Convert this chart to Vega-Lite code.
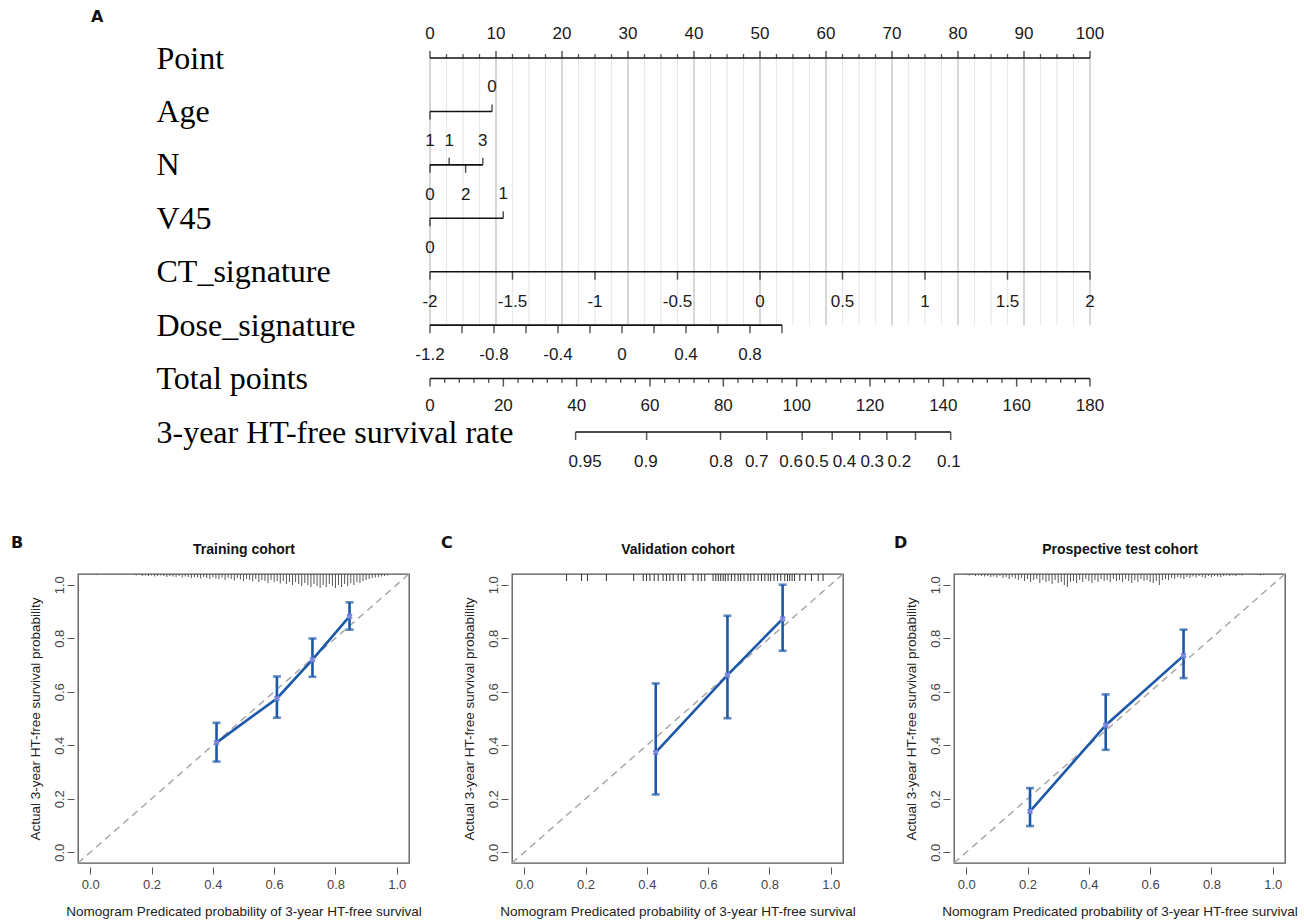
{
"$schema": "https://vega.github.io/schema/vega-lite/v6.json",
"padding": {"left": 10, "top": 9, "right": 0, "bottom": 0},
"background": "white",
"bounds": "flush",
"spacing": 142,
"config": {
  "view": {"stroke": "#555555", "strokeWidth": 1.3},
  "font": "Liberation Sans",
  "axis": {"labelFont": "Liberation Sans", "titleFont": "Liberation Sans", "grid": false},
  "title": {"font": "DejaVu Sans"}
},
"datasets": {
  "nomoLines": [
    {"r":"Point","x1":0,"x2":100},{"r":"Age","x1":0,"x2":9.4},{"r":"N","x1":0,"x2":8.0},{"r":"V45","x1":0,"x2":11.1},
    {"r":"CT_signature","x1":0,"x2":100},{"r":"Dose_signature","x1":0,"x2":53.333},{"r":"Total points","x1":0,"x2":100},
    {"r":"3-year HT-free survival rate","x1":22.06,"x2":78.89}
  ],
  "nomoGrid": [
    {"x":0,"w":"major"},{"x":2.5,"w":"minor"},{"x":5,"w":"minor"},{"x":7.5,"w":"minor"},{"x":10,"w":"major"},{"x":12.5,"w":"minor"},{"x":15,"w":"minor"},{"x":17.5,"w":"minor"},
    {"x":20,"w":"major"},{"x":22.5,"w":"minor"},{"x":25,"w":"minor"},{"x":27.5,"w":"minor"},{"x":30,"w":"major"},{"x":32.5,"w":"minor"},{"x":35,"w":"minor"},{"x":37.5,"w":"minor"},
    {"x":40,"w":"major"},{"x":42.5,"w":"minor"},{"x":45,"w":"minor"},{"x":47.5,"w":"minor"},{"x":50,"w":"major"},{"x":52.5,"w":"minor"},{"x":55,"w":"minor"},{"x":57.5,"w":"minor"},
    {"x":60,"w":"major"},{"x":62.5,"w":"minor"},{"x":65,"w":"minor"},{"x":67.5,"w":"minor"},{"x":70,"w":"major"},{"x":72.5,"w":"minor"},{"x":75,"w":"minor"},{"x":77.5,"w":"minor"},
    {"x":80,"w":"major"},{"x":82.5,"w":"minor"},{"x":85,"w":"minor"},{"x":87.5,"w":"minor"},{"x":90,"w":"major"},{"x":92.5,"w":"minor"},{"x":95,"w":"minor"},{"x":97.5,"w":"minor"},
    {"x":100,"w":"major"}
  ],
  "nomoTicks": [
    {"r":"Point","x":0,"d":"up","l":"major"},{"r":"Point","x":10,"d":"up","l":"major"},{"r":"Point","x":20,"d":"up","l":"major"},{"r":"Point","x":30,"d":"up","l":"major"},
    {"r":"Point","x":40,"d":"up","l":"major"},{"r":"Point","x":50,"d":"up","l":"major"},{"r":"Point","x":60,"d":"up","l":"major"},{"r":"Point","x":70,"d":"up","l":"major"},
    {"r":"Point","x":80,"d":"up","l":"major"},{"r":"Point","x":90,"d":"up","l":"major"},{"r":"Point","x":100,"d":"up","l":"major"},
    {"r":"Point","x":2.5,"d":"up","l":"minor"},{"r":"Point","x":5,"d":"up","l":"minor"},{"r":"Point","x":7.5,"d":"up","l":"minor"},
    {"r":"Point","x":12.5,"d":"up","l":"minor"},{"r":"Point","x":15,"d":"up","l":"minor"},{"r":"Point","x":17.5,"d":"up","l":"minor"},
    {"r":"Point","x":22.5,"d":"up","l":"minor"},{"r":"Point","x":25,"d":"up","l":"minor"},{"r":"Point","x":27.5,"d":"up","l":"minor"},
    {"r":"Point","x":32.5,"d":"up","l":"minor"},{"r":"Point","x":35,"d":"up","l":"minor"},{"r":"Point","x":37.5,"d":"up","l":"minor"},
    {"r":"Point","x":42.5,"d":"up","l":"minor"},{"r":"Point","x":45,"d":"up","l":"minor"},{"r":"Point","x":47.5,"d":"up","l":"minor"},
    {"r":"Point","x":52.5,"d":"up","l":"minor"},{"r":"Point","x":55,"d":"up","l":"minor"},{"r":"Point","x":57.5,"d":"up","l":"minor"},
    {"r":"Point","x":62.5,"d":"up","l":"minor"},{"r":"Point","x":65,"d":"up","l":"minor"},{"r":"Point","x":67.5,"d":"up","l":"minor"},
    {"r":"Point","x":72.5,"d":"up","l":"minor"},{"r":"Point","x":75,"d":"up","l":"minor"},{"r":"Point","x":77.5,"d":"up","l":"minor"},
    {"r":"Point","x":82.5,"d":"up","l":"minor"},{"r":"Point","x":85,"d":"up","l":"minor"},{"r":"Point","x":87.5,"d":"up","l":"minor"},
    {"r":"Point","x":92.5,"d":"up","l":"minor"},{"r":"Point","x":95,"d":"up","l":"minor"},{"r":"Point","x":97.5,"d":"up","l":"minor"},
    {"r":"Age","x":0,"d":"down","l":"major"},{"r":"Age","x":9.4,"d":"up","l":"major"},
    {"r":"N","x":0,"d":"down","l":"major"},{"r":"N","x":2.9,"d":"up","l":"major"},{"r":"N","x":5.4,"d":"down","l":"major"},{"r":"N","x":8.0,"d":"up","l":"major"},
    {"r":"V45","x":0,"d":"down","l":"major"},{"r":"V45","x":11.1,"d":"up","l":"major"},
    {"r":"CT_signature","x":0,"d":"down","l":"major"},{"r":"CT_signature","x":12.5,"d":"down","l":"major"},{"r":"CT_signature","x":25,"d":"down","l":"major"},
    {"r":"CT_signature","x":37.5,"d":"down","l":"major"},{"r":"CT_signature","x":50,"d":"down","l":"major"},{"r":"CT_signature","x":62.5,"d":"down","l":"major"},
    {"r":"CT_signature","x":75,"d":"down","l":"major"},{"r":"CT_signature","x":87.5,"d":"down","l":"major"},{"r":"CT_signature","x":100,"d":"down","l":"major"},
    {"r":"Dose_signature","x":0,"d":"down","l":"major"},{"r":"Dose_signature","x":4.848,"d":"down","l":"major"},{"r":"Dose_signature","x":9.697,"d":"down","l":"major"},
    {"r":"Dose_signature","x":14.545,"d":"down","l":"major"},{"r":"Dose_signature","x":19.394,"d":"down","l":"major"},{"r":"Dose_signature","x":24.242,"d":"down","l":"major"},
    {"r":"Dose_signature","x":29.091,"d":"down","l":"major"},{"r":"Dose_signature","x":33.939,"d":"down","l":"major"},{"r":"Dose_signature","x":38.788,"d":"down","l":"major"},
    {"r":"Dose_signature","x":43.636,"d":"down","l":"major"},{"r":"Dose_signature","x":48.485,"d":"down","l":"major"},{"r":"Dose_signature","x":53.333,"d":"down","l":"major"},
    {"r":"Total points","x":0,"d":"down","l":"major"},{"r":"Total points","x":11.111,"d":"down","l":"major"},{"r":"Total points","x":22.222,"d":"down","l":"major"},
    {"r":"Total points","x":33.333,"d":"down","l":"major"},{"r":"Total points","x":44.444,"d":"down","l":"major"},{"r":"Total points","x":55.556,"d":"down","l":"major"},
    {"r":"Total points","x":66.667,"d":"down","l":"major"},{"r":"Total points","x":77.778,"d":"down","l":"major"},{"r":"Total points","x":88.889,"d":"down","l":"major"},
    {"r":"Total points","x":100,"d":"down","l":"major"},
    {"r":"Total points","x":2.222,"d":"down","l":"minor"},{"r":"Total points","x":4.444,"d":"down","l":"minor"},{"r":"Total points","x":6.667,"d":"down","l":"minor"},{"r":"Total points","x":8.889,"d":"down","l":"minor"},
    {"r":"Total points","x":13.333,"d":"down","l":"minor"},{"r":"Total points","x":15.556,"d":"down","l":"minor"},{"r":"Total points","x":17.778,"d":"down","l":"minor"},{"r":"Total points","x":20,"d":"down","l":"minor"},
    {"r":"Total points","x":24.444,"d":"down","l":"minor"},{"r":"Total points","x":26.667,"d":"down","l":"minor"},{"r":"Total points","x":28.889,"d":"down","l":"minor"},{"r":"Total points","x":31.111,"d":"down","l":"minor"},
    {"r":"Total points","x":35.556,"d":"down","l":"minor"},{"r":"Total points","x":37.778,"d":"down","l":"minor"},{"r":"Total points","x":40,"d":"down","l":"minor"},{"r":"Total points","x":42.222,"d":"down","l":"minor"},
    {"r":"Total points","x":46.667,"d":"down","l":"minor"},{"r":"Total points","x":48.889,"d":"down","l":"minor"},{"r":"Total points","x":51.111,"d":"down","l":"minor"},{"r":"Total points","x":53.333,"d":"down","l":"minor"},
    {"r":"Total points","x":57.778,"d":"down","l":"minor"},{"r":"Total points","x":60,"d":"down","l":"minor"},{"r":"Total points","x":62.222,"d":"down","l":"minor"},{"r":"Total points","x":64.444,"d":"down","l":"minor"},
    {"r":"Total points","x":68.889,"d":"down","l":"minor"},{"r":"Total points","x":71.111,"d":"down","l":"minor"},{"r":"Total points","x":73.333,"d":"down","l":"minor"},{"r":"Total points","x":75.556,"d":"down","l":"minor"},
    {"r":"Total points","x":80,"d":"down","l":"minor"},{"r":"Total points","x":82.222,"d":"down","l":"minor"},{"r":"Total points","x":84.444,"d":"down","l":"minor"},{"r":"Total points","x":86.667,"d":"down","l":"minor"},
    {"r":"Total points","x":91.111,"d":"down","l":"minor"},{"r":"Total points","x":93.333,"d":"down","l":"minor"},{"r":"Total points","x":95.556,"d":"down","l":"minor"},{"r":"Total points","x":97.778,"d":"down","l":"minor"},
    {"r":"3-year HT-free survival rate","x":22.06,"d":"down","l":"major"},{"r":"3-year HT-free survival rate","x":32.82,"d":"down","l":"major"},
    {"r":"3-year HT-free survival rate","x":44.02,"d":"down","l":"major"},{"r":"3-year HT-free survival rate","x":51.02,"d":"down","l":"major"},
    {"r":"3-year HT-free survival rate","x":56.39,"d":"down","l":"major"},{"r":"3-year HT-free survival rate","x":60.94,"d":"down","l":"major"},
    {"r":"3-year HT-free survival rate","x":65.11,"d":"down","l":"major"},{"r":"3-year HT-free survival rate","x":69.22,"d":"down","l":"major"},
    {"r":"3-year HT-free survival rate","x":73.56,"d":"down","l":"major"},{"r":"3-year HT-free survival rate","x":78.89,"d":"down","l":"major"}
  ],
  "nomoLabels": [
    {"r":"Point","x":0,"t":"0","p":"above"},{"r":"Point","x":10,"t":"10","p":"above"},{"r":"Point","x":20,"t":"20","p":"above"},{"r":"Point","x":30,"t":"30","p":"above"},
    {"r":"Point","x":40,"t":"40","p":"above"},{"r":"Point","x":50,"t":"50","p":"above"},{"r":"Point","x":60,"t":"60","p":"above"},{"r":"Point","x":70,"t":"70","p":"above"},
    {"r":"Point","x":80,"t":"80","p":"above"},{"r":"Point","x":90,"t":"90","p":"above"},{"r":"Point","x":100,"t":"100","p":"above"},
    {"r":"Age","x":0,"t":"1","p":"below"},{"r":"Age","x":9.4,"t":"0","p":"above"},
    {"r":"N","x":0,"t":"0","p":"below"},{"r":"N","x":2.9,"t":"1","p":"above"},{"r":"N","x":5.4,"t":"2","p":"below"},{"r":"N","x":8.0,"t":"3","p":"above"},
    {"r":"V45","x":0,"t":"0","p":"below"},{"r":"V45","x":11.1,"t":"1","p":"above"},
    {"r":"CT_signature","x":0,"t":"-2","p":"below"},{"r":"CT_signature","x":12.5,"t":"-1.5","p":"below"},{"r":"CT_signature","x":25,"t":"-1","p":"below"},
    {"r":"CT_signature","x":37.5,"t":"-0.5","p":"below"},{"r":"CT_signature","x":50,"t":"0","p":"below"},{"r":"CT_signature","x":62.5,"t":"0.5","p":"below"},
    {"r":"CT_signature","x":75,"t":"1","p":"below"},{"r":"CT_signature","x":87.5,"t":"1.5","p":"below"},{"r":"CT_signature","x":100,"t":"2","p":"below"},
    {"r":"Dose_signature","x":0,"t":"-1.2","p":"below"},{"r":"Dose_signature","x":9.697,"t":"-0.8","p":"below"},{"r":"Dose_signature","x":19.394,"t":"-0.4","p":"below"},
    {"r":"Dose_signature","x":29.091,"t":"0","p":"below"},{"r":"Dose_signature","x":38.788,"t":"0.4","p":"below"},{"r":"Dose_signature","x":48.485,"t":"0.8","p":"below"},
    {"r":"Total points","x":0,"t":"0","p":"belowT"},{"r":"Total points","x":11.111,"t":"20","p":"belowT"},{"r":"Total points","x":22.222,"t":"40","p":"belowT"},
    {"r":"Total points","x":33.333,"t":"60","p":"belowT"},{"r":"Total points","x":44.444,"t":"80","p":"belowT"},{"r":"Total points","x":55.556,"t":"100","p":"belowT"},
    {"r":"Total points","x":66.667,"t":"120","p":"belowT"},{"r":"Total points","x":77.778,"t":"140","p":"belowT"},{"r":"Total points","x":88.889,"t":"160","p":"belowT"},
    {"r":"Total points","x":100,"t":"180","p":"belowT"},
    {"r":"3-year HT-free survival rate","x":23.5,"t":"0.95","p":"below"},{"r":"3-year HT-free survival rate","x":32.7,"t":"0.9","p":"below"},
    {"r":"3-year HT-free survival rate","x":44.1,"t":"0.8","p":"below"},{"r":"3-year HT-free survival rate","x":49.5,"t":"0.7","p":"below"},
    {"r":"3-year HT-free survival rate","x":54.7,"t":"0.6","p":"below"},{"r":"3-year HT-free survival rate","x":58.6,"t":"0.5","p":"below"},
    {"r":"3-year HT-free survival rate","x":62.8,"t":"0.4","p":"below"},{"r":"3-year HT-free survival rate","x":67.0,"t":"0.3","p":"below"},
    {"r":"3-year HT-free survival rate","x":71.1,"t":"0.2","p":"below"},{"r":"3-year HT-free survival rate","x":78.6,"t":"0.1","p":"below"}
  ],
  "diag": [{"v":-0.04},{"v":1.04}],
  "calB": [{"pred":0.412,"obs":0.41,"lo":0.339,"hi":0.484},{"pred":0.609,"obs":0.575,"lo":0.503,"hi":0.657},{"pred":0.725,"obs":0.72,"lo":0.656,"hi":0.799},{"pred":0.846,"obs":0.882,"lo":0.832,"hi":0.934}],
  "calC": [{"pred":0.429,"obs":0.373,"lo":0.216,"hi":0.631},{"pred":0.663,"obs":0.662,"lo":0.501,"hi":0.884},{"pred":0.843,"obs":0.872,"lo":0.753,"hi":1.0}],
  "calD": [{"pred":0.208,"obs":0.153,"lo":0.098,"hi":0.24},{"pred":0.455,"obs":0.475,"lo":0.383,"hi":0.59},{"pred":0.709,"obs":0.735,"lo":0.651,"hi":0.832}],
  "rugB": [{"v":0.02,"n":1},{"v":0.15,"n":1.5},{"v":0.16,"n":1},{"v":0.17,"n":2},{"v":0.18,"n":1.5},{"v":0.19,"n":2},{"v":0.2,"n":1.5},{"v":0.21,"n":2.5},{"v":0.22,"n":2},{"v":0.23,"n":1.5},{"v":0.24,"n":2},{"v":0.25,"n":3},{"v":0.26,"n":2},{"v":0.27,"n":2.5},{"v":0.28,"n":3},{"v":0.29,"n":2},{"v":0.3,"n":3.5},{"v":0.31,"n":2.5},{"v":0.32,"n":3},{"v":0.33,"n":4},{"v":0.34,"n":3},{"v":0.35,"n":3.5},{"v":0.36,"n":4.5},{"v":0.37,"n":3},{"v":0.38,"n":4},{"v":0.39,"n":5},{"v":0.4,"n":3.5},{"v":0.41,"n":4.5},{"v":0.42,"n":5},{"v":0.43,"n":3.5},{"v":0.44,"n":6},{"v":0.45,"n":4},{"v":0.46,"n":5},{"v":0.47,"n":6.5},{"v":0.48,"n":4},{"v":0.49,"n":5.5},{"v":0.5,"n":7},{"v":0.51,"n":5},{"v":0.52,"n":6},{"v":0.53,"n":7.5},{"v":0.54,"n":5},{"v":0.55,"n":8},{"v":0.56,"n":6},{"v":0.57,"n":7},{"v":0.58,"n":9},{"v":0.59,"n":6},{"v":0.6,"n":8},{"v":0.61,"n":7},{"v":0.62,"n":9.5},{"v":0.63,"n":7},{"v":0.64,"n":10},{"v":0.65,"n":8},{"v":0.66,"n":11},{"v":0.67,"n":8},{"v":0.68,"n":10},{"v":0.69,"n":12},{"v":0.7,"n":9},{"v":0.71,"n":11},{"v":0.72,"n":13},{"v":0.73,"n":10},{"v":0.74,"n":12},{"v":0.75,"n":14},{"v":0.76,"n":11},{"v":0.77,"n":13},{"v":0.78,"n":10},{"v":0.79,"n":12},{"v":0.8,"n":14},{"v":0.81,"n":11},{"v":0.82,"n":13},{"v":0.83,"n":10},{"v":0.84,"n":12},{"v":0.85,"n":9},{"v":0.86,"n":11},{"v":0.87,"n":8},{"v":0.88,"n":9},{"v":0.89,"n":7},{"v":0.9,"n":6},{"v":0.91,"n":5},{"v":0.92,"n":4},{"v":0.93,"n":3.5},{"v":0.94,"n":3},{"v":0.95,"n":2.5},{"v":0.96,"n":2},{"v":0.97,"n":1.5}],
  "rugC": [{"v":0.138,"n":7},{"v":0.187,"n":7},{"v":0.206,"n":7},{"v":0.268,"n":7},{"v":0.357,"n":7},{"v":0.388,"n":7},{"v":0.399,"n":7},{"v":0.41,"n":7},{"v":0.424,"n":7},{"v":0.437,"n":7},{"v":0.453,"n":7},{"v":0.464,"n":7},{"v":0.475,"n":7},{"v":0.486,"n":7},{"v":0.502,"n":7},{"v":0.513,"n":7},{"v":0.524,"n":7},{"v":0.551,"n":7},{"v":0.567,"n":7},{"v":0.578,"n":7},{"v":0.589,"n":7},{"v":0.616,"n":7},{"v":0.625,"n":7},{"v":0.633,"n":7},{"v":0.641,"n":7},{"v":0.649,"n":7},{"v":0.656,"n":7},{"v":0.665,"n":7},{"v":0.676,"n":7},{"v":0.687,"n":7},{"v":0.698,"n":7},{"v":0.706,"n":7},{"v":0.717,"n":7},{"v":0.73,"n":7},{"v":0.739,"n":7},{"v":0.75,"n":7},{"v":0.763,"n":7},{"v":0.774,"n":7},{"v":0.785,"n":7},{"v":0.796,"n":7},{"v":0.804,"n":7},{"v":0.815,"n":7},{"v":0.826,"n":7},{"v":0.837,"n":7},{"v":0.85,"n":7},{"v":0.859,"n":7},{"v":0.866,"n":7},{"v":0.874,"n":7},{"v":0.882,"n":7},{"v":0.899,"n":7},{"v":0.917,"n":7},{"v":0.937,"n":7},{"v":0.959,"n":7},{"v":0.975,"n":7}],
  "rugD": [{"v":0.0,"n":1},{"v":0.01,"n":1.5},{"v":0.02,"n":1},{"v":0.03,"n":2},{"v":0.04,"n":1.5},{"v":0.05,"n":2},{"v":0.06,"n":2.5},{"v":0.07,"n":2},{"v":0.08,"n":3},{"v":0.09,"n":2.5},{"v":0.1,"n":3.5},{"v":0.11,"n":2},{"v":0.12,"n":4},{"v":0.13,"n":3},{"v":0.14,"n":5},{"v":0.15,"n":3},{"v":0.16,"n":4.5},{"v":0.17,"n":6},{"v":0.18,"n":4},{"v":0.19,"n":7},{"v":0.2,"n":5},{"v":0.21,"n":8},{"v":0.22,"n":6},{"v":0.23,"n":5},{"v":0.24,"n":9},{"v":0.25,"n":6},{"v":0.26,"n":8},{"v":0.27,"n":7},{"v":0.28,"n":10},{"v":0.29,"n":6},{"v":0.3,"n":9},{"v":0.31,"n":8},{"v":0.32,"n":11},{"v":0.33,"n":13},{"v":0.34,"n":8},{"v":0.35,"n":7},{"v":0.36,"n":9},{"v":0.37,"n":6},{"v":0.38,"n":8},{"v":0.39,"n":5},{"v":0.4,"n":7},{"v":0.41,"n":9},{"v":0.42,"n":6},{"v":0.43,"n":8},{"v":0.44,"n":5},{"v":0.45,"n":7},{"v":0.46,"n":6},{"v":0.47,"n":8},{"v":0.48,"n":5},{"v":0.49,"n":7},{"v":0.5,"n":6},{"v":0.51,"n":8},{"v":0.52,"n":5},{"v":0.53,"n":7},{"v":0.54,"n":9},{"v":0.55,"n":6},{"v":0.56,"n":8},{"v":0.57,"n":5},{"v":0.58,"n":7},{"v":0.59,"n":6},{"v":0.6,"n":8},{"v":0.61,"n":9},{"v":0.62,"n":7},{"v":0.63,"n":11},{"v":0.64,"n":6},{"v":0.65,"n":5},{"v":0.66,"n":6},{"v":0.67,"n":4},{"v":0.68,"n":5},{"v":0.69,"n":3},{"v":0.7,"n":4},{"v":0.71,"n":5},{"v":0.72,"n":3},{"v":0.73,"n":4},{"v":0.74,"n":2.5},{"v":0.75,"n":3.5},{"v":0.76,"n":2},{"v":0.77,"n":3},{"v":0.78,"n":4},{"v":0.79,"n":2},{"v":0.8,"n":3},{"v":0.81,"n":2},{"v":0.82,"n":2.5},{"v":0.83,"n":3},{"v":0.84,"n":2},{"v":0.85,"n":1.5},{"v":0.86,"n":2},{"v":0.87,"n":1.5},{"v":0.88,"n":2},{"v":0.89,"n":1},{"v":0.9,"n":1.5},{"v":0.95,"n":1},{"v":0.96,"n":1.5},{"v":0.97,"n":1}]
},
"vconcat": [
  {
    "width": 1207, "height": 374,
    "view": {"stroke": null},
    "title": {"text": "A", "anchor": "start", "frame": "group", "dx": 13, "offset": 0, "fontSize": 16, "fontWeight": "bold", "color": "#111111"},
    "encoding": {
      "y": {"field": "r", "type": "nominal", "title": null,
        "scale": {"type": "point", "padding": 0, "domain": ["Point","Age","N","V45","CT_signature","Dose_signature","Total points","3-year HT-free survival rate"]},
        "axis": {"orient": "left", "ticks": false, "tickSize": 0, "domain": false, "grid": false, "labelAlign": "left", "labelBaseline": "middle", "labelPadding": -78, "labelFont": "Liberation Serif", "labelFontSize": 32, "labelColor": "#000000", "labelLimit": 700, "labelOverlap": false, "title": null}}
    },
    "layer": [
      {"data": {"name": "nomoGrid"}, "transform": [{"filter": "datum.w === 'minor'"}],
       "mark": {"type": "rule", "color": "#e8e8e8", "strokeWidth": 1.2},
       "encoding": {"x": {"field": "x", "type": "quantitative", "scale": {"domain": [-53.333, 129.545], "nice": false, "zero": false}, "axis": null},
         "y": {"datum": "Point", "type": "nominal", "title": null}, "y2": {"datum": "Dose_signature"}}},
      {"data": {"name": "nomoGrid"}, "transform": [{"filter": "datum.w === 'major'"}],
       "mark": {"type": "rule", "color": "#cdcdcd", "strokeWidth": 1.6},
       "encoding": {"x": {"field": "x", "type": "quantitative", "axis": null},
         "y": {"datum": "Point", "type": "nominal", "title": null}, "y2": {"datum": "Dose_signature"}}},
      {"data": {"name": "nomoLines"},
       "mark": {"type": "rule", "color": "#111111", "strokeWidth": 1.6},
       "encoding": {"x": {"field": "x1", "type": "quantitative", "axis": null}, "x2": {"field": "x2"}}},
      {"data": {"name": "nomoTicks"}, "transform": [{"filter": "datum.d === 'up' && datum.l === 'major'"}],
       "mark": {"type": "tick", "orient": "vertical", "size": 7, "thickness": 1.5, "yOffset": -3.5, "color": "#111111"},
       "encoding": {"x": {"field": "x", "type": "quantitative", "axis": null}}},
      {"data": {"name": "nomoTicks"}, "transform": [{"filter": "datum.d === 'up' && datum.l === 'minor'"}],
       "mark": {"type": "tick", "orient": "vertical", "size": 4, "thickness": 1.3, "yOffset": -2, "color": "#111111"},
       "encoding": {"x": {"field": "x", "type": "quantitative", "axis": null}}},
      {"data": {"name": "nomoTicks"}, "transform": [{"filter": "datum.d === 'down' && datum.l === 'major'"}],
       "mark": {"type": "tick", "orient": "vertical", "size": 8, "thickness": 1.5, "yOffset": 4, "color": "#111111"},
       "encoding": {"x": {"field": "x", "type": "quantitative", "axis": null}}},
      {"data": {"name": "nomoTicks"}, "transform": [{"filter": "datum.d === 'down' && datum.l === 'minor'"}],
       "mark": {"type": "tick", "orient": "vertical", "size": 4.5, "thickness": 1.3, "yOffset": 2.25, "color": "#111111"},
       "encoding": {"x": {"field": "x", "type": "quantitative", "axis": null}}},
      {"data": {"name": "nomoLabels"}, "transform": [{"filter": "datum.p === 'above'"}],
       "mark": {"type": "text", "dy": -24, "fontSize": 17, "font": "Liberation Sans", "color": "#1a1a1a", "baseline": "middle", "align": "center"},
       "encoding": {"x": {"field": "x", "type": "quantitative", "axis": null}, "text": {"field": "t"}}},
      {"data": {"name": "nomoLabels"}, "transform": [{"filter": "datum.p === 'below'"}],
       "mark": {"type": "text", "dy": 30, "fontSize": 17, "font": "Liberation Sans", "color": "#1a1a1a", "baseline": "middle", "align": "center"},
       "encoding": {"x": {"field": "x", "type": "quantitative", "axis": null}, "text": {"field": "t"}}},
      {"data": {"name": "nomoLabels"}, "transform": [{"filter": "datum.p === 'belowT'"}],
       "mark": {"type": "text", "dy": 27, "fontSize": 17, "font": "Liberation Sans", "color": "#1a1a1a", "baseline": "middle", "align": "center"},
       "encoding": {"x": {"field": "x", "type": "quantitative", "axis": null}, "text": {"field": "t"}}}
    ]
  },
  {
    "hconcat": [
      {
        "width": 331, "height": 289,
        "title": {"text": "B", "anchor": "start", "frame": "group", "dx": -67, "dy": 13, "fontSize": 16, "fontWeight": "bold", "color": "#111111"},
        "layer": [
          {"layer": [
            {"data": {"name": "diag"}, "mark": {"type": "line", "color": "#a8a8a8", "strokeWidth": 1.5, "strokeDash": [7, 5]},
             "encoding": {
               "x": {"field": "v", "type": "quantitative", "title": "Nomogram Predicated probability of 3-year HT-free survival", "scale": {"domain": [-0.04, 1.04], "nice": false, "zero": false},
                 "axis": {"offset": 4, "domain": false, "tickSize": 7, "tickColor": "#555555", "values": [0, 0.2, 0.4, 0.6, 0.8, 1], "format": ".1f", "labelFontSize": 13, "labelColor": "#444444", "labelPadding": 4, "titleFontSize": 13.5, "titleFontWeight": "normal", "titleColor": "#222222", "titlePadding": 13}},
               "y": {"field": "v", "type": "quantitative", "title": "Actual 3-year HT-free survival probability", "scale": {"domain": [-0.04, 1.04], "nice": false, "zero": false},
                 "axis": {"offset": 4, "domain": false, "tickSize": 7, "tickColor": "#555555", "values": [0, 0.2, 0.4, 0.6, 0.8, 1], "format": ".1f", "labelAngle": -90, "labelAlign": "center", "labelBaseline": "bottom", "labelFontSize": 13, "labelColor": "#444444", "labelPadding": 1, "titleFontSize": 13.5, "titleFontWeight": "normal", "titleColor": "#222222", "titlePadding": 11}}}},
            {"data": {"name": "calB"}, "mark": {"type": "errorbar", "color": "#1c58a8", "thickness": 2.6, "ticks": {"size": 8, "thickness": 2.6, "color": "#1c58a8"}},
             "encoding": {"x": {"field": "pred", "type": "quantitative", "title": "Nomogram Predicated probability of 3-year HT-free survival"}, "y": {"field": "lo", "type": "quantitative", "title": "Actual 3-year HT-free survival probability"}, "y2": {"field": "hi"}}},
            {"data": {"name": "calB"}, "mark": {"type": "line", "color": "#1c58a8", "strokeWidth": 2.6},
             "encoding": {"x": {"field": "pred", "type": "quantitative", "title": "Nomogram Predicated probability of 3-year HT-free survival"}, "y": {"field": "obs", "type": "quantitative", "title": "Actual 3-year HT-free survival probability"}}},
            {"data": {"name": "calB"}, "mark": {"type": "point", "shape": "cross", "angle": 45, "filled": true, "size": 40, "color": "#7a86e0", "opacity": 1},
             "encoding": {"x": {"field": "pred", "type": "quantitative", "title": "Nomogram Predicated probability of 3-year HT-free survival"}, "y": {"field": "obs", "type": "quantitative", "title": "Actual 3-year HT-free survival probability"}}}
          ]},
          {"data": {"name": "rugB"}, "mark": {"type": "rule", "color": "#555555", "strokeWidth": 1},
           "encoding": {
             "x": {"field": "v", "type": "quantitative", "scale": {"domain": [-0.04, 1.04], "nice": false, "zero": false},
               "axis": {"orient": "top", "labels": false, "ticks": false, "domain": false, "grid": false, "title": "Training cohort", "titleFont": "Liberation Sans", "titleFontSize": 14, "titleFontWeight": "bold", "titleColor": "#111111", "titlePadding": 18}},
             "y": {"field": "n", "type": "quantitative", "scale": {"domain": [0, 289], "reverse": true, "nice": false}, "axis": null},
             "y2": {"datum": 0}}}
        ],
        "resolve": {"scale": {"y": "independent"}, "axis": {"x": "independent", "y": "independent"}}
      },
      {
        "hconcat": [
          {
            "width": 331, "height": 289,
            "title": {"text": "C", "anchor": "start", "frame": "group", "dx": -71, "dy": 13, "fontSize": 16, "fontWeight": "bold", "color": "#111111"},
            "layer": [
              {"layer": [
                {"data": {"name": "diag"}, "mark": {"type": "line", "color": "#a8a8a8", "strokeWidth": 1.5, "strokeDash": [7, 5]},
                 "encoding": {
                   "x": {"field": "v", "type": "quantitative", "title": "Nomogram Predicated probability of 3-year HT-free survival", "scale": {"domain": [-0.04, 1.04], "nice": false, "zero": false},
                     "axis": {"offset": 4, "domain": false, "tickSize": 7, "tickColor": "#555555", "values": [0, 0.2, 0.4, 0.6, 0.8, 1], "format": ".1f", "labelFontSize": 13, "labelColor": "#444444", "labelPadding": 4, "titleFontSize": 13.5, "titleFontWeight": "normal", "titleColor": "#222222", "titlePadding": 13}},
                   "y": {"field": "v", "type": "quantitative", "title": "Actual 3-year HT-free survival probability", "scale": {"domain": [-0.04, 1.04], "nice": false, "zero": false},
                     "axis": {"offset": 4, "domain": false, "tickSize": 7, "tickColor": "#555555", "values": [0, 0.2, 0.4, 0.6, 0.8, 1], "format": ".1f", "labelAngle": -90, "labelAlign": "center", "labelBaseline": "bottom", "labelFontSize": 13, "labelColor": "#444444", "labelPadding": 1, "titleFontSize": 13.5, "titleFontWeight": "normal", "titleColor": "#222222", "titlePadding": 11}}}},
                {"data": {"name": "calC"}, "mark": {"type": "errorbar", "color": "#1c58a8", "thickness": 2.6, "ticks": {"size": 8, "thickness": 2.6, "color": "#1c58a8"}},
                 "encoding": {"x": {"field": "pred", "type": "quantitative", "title": "Nomogram Predicated probability of 3-year HT-free survival"}, "y": {"field": "lo", "type": "quantitative", "title": "Actual 3-year HT-free survival probability"}, "y2": {"field": "hi"}}},
                {"data": {"name": "calC"}, "mark": {"type": "line", "color": "#1c58a8", "strokeWidth": 2.6},
                 "encoding": {"x": {"field": "pred", "type": "quantitative", "title": "Nomogram Predicated probability of 3-year HT-free survival"}, "y": {"field": "obs", "type": "quantitative", "title": "Actual 3-year HT-free survival probability"}}},
                {"data": {"name": "calC"}, "mark": {"type": "point", "shape": "cross", "angle": 45, "filled": true, "size": 40, "color": "#7a86e0", "opacity": 1},
                 "encoding": {"x": {"field": "pred", "type": "quantitative", "title": "Nomogram Predicated probability of 3-year HT-free survival"}, "y": {"field": "obs", "type": "quantitative", "title": "Actual 3-year HT-free survival probability"}}}
              ]},
              {"data": {"name": "rugC"}, "mark": {"type": "rule", "color": "#333333", "strokeWidth": 1},
               "encoding": {
                 "x": {"field": "v", "type": "quantitative", "scale": {"domain": [-0.04, 1.04], "nice": false, "zero": false},
                   "axis": {"orient": "top", "labels": false, "ticks": false, "domain": false, "grid": false, "title": "Validation cohort", "titleFont": "Liberation Sans", "titleFontSize": 14, "titleFontWeight": "bold", "titleColor": "#111111", "titlePadding": 18}},
                 "y": {"field": "n", "type": "quantitative", "scale": {"domain": [0, 289], "reverse": true, "nice": false}, "axis": null},
                 "y2": {"datum": 0}}}
            ],
            "resolve": {"scale": {"y": "independent"}, "axis": {"x": "independent", "y": "independent"}}
          },
          {
            "width": 331, "height": 289,
            "title": {"text": "D", "anchor": "start", "frame": "group", "dx": -60, "dy": 13, "fontSize": 16, "fontWeight": "bold", "color": "#111111"},
            "layer": [
              {"layer": [
                {"data": {"name": "diag"}, "mark": {"type": "line", "color": "#a8a8a8", "strokeWidth": 1.5, "strokeDash": [7, 5]},
                 "encoding": {
                   "x": {"field": "v", "type": "quantitative", "title": "Nomogram Predicated probability of 3-year HT-free survival", "scale": {"domain": [-0.04, 1.04], "nice": false, "zero": false},
                     "axis": {"offset": 4, "domain": false, "tickSize": 7, "tickColor": "#555555", "values": [0, 0.2, 0.4, 0.6, 0.8, 1], "format": ".1f", "labelFontSize": 13, "labelColor": "#444444", "labelPadding": 4, "titleFontSize": 13.5, "titleFontWeight": "normal", "titleColor": "#222222", "titlePadding": 13}},
                   "y": {"field": "v", "type": "quantitative", "title": "Actual 3-year HT-free survival probability", "scale": {"domain": [-0.04, 1.04], "nice": false, "zero": false},
                     "axis": {"offset": 4, "domain": false, "tickSize": 7, "tickColor": "#555555", "values": [0, 0.2, 0.4, 0.6, 0.8, 1], "format": ".1f", "labelAngle": -90, "labelAlign": "center", "labelBaseline": "bottom", "labelFontSize": 13, "labelColor": "#444444", "labelPadding": 1, "titleFontSize": 13.5, "titleFontWeight": "normal", "titleColor": "#222222", "titlePadding": 11}}}},
                {"data": {"name": "calD"}, "mark": {"type": "errorbar", "color": "#1c58a8", "thickness": 2.6, "ticks": {"size": 8, "thickness": 2.6, "color": "#1c58a8"}},
                 "encoding": {"x": {"field": "pred", "type": "quantitative", "title": "Nomogram Predicated probability of 3-year HT-free survival"}, "y": {"field": "lo", "type": "quantitative", "title": "Actual 3-year HT-free survival probability"}, "y2": {"field": "hi"}}},
                {"data": {"name": "calD"}, "mark": {"type": "line", "color": "#1c58a8", "strokeWidth": 2.6},
                 "encoding": {"x": {"field": "pred", "type": "quantitative", "title": "Nomogram Predicated probability of 3-year HT-free survival"}, "y": {"field": "obs", "type": "quantitative", "title": "Actual 3-year HT-free survival probability"}}},
                {"data": {"name": "calD"}, "mark": {"type": "point", "shape": "cross", "angle": 45, "filled": true, "size": 40, "color": "#7a86e0", "opacity": 1},
                 "encoding": {"x": {"field": "pred", "type": "quantitative", "title": "Nomogram Predicated probability of 3-year HT-free survival"}, "y": {"field": "obs", "type": "quantitative", "title": "Actual 3-year HT-free survival probability"}}}
              ]},
              {"data": {"name": "rugD"}, "mark": {"type": "rule", "color": "#555555", "strokeWidth": 1},
               "encoding": {
                 "x": {"field": "v", "type": "quantitative", "scale": {"domain": [-0.04, 1.04], "nice": false, "zero": false},
                   "axis": {"orient": "top", "labels": false, "ticks": false, "domain": false, "grid": false, "title": "Prospective test cohort", "titleFont": "Liberation Sans", "titleFontSize": 14, "titleFontWeight": "bold", "titleColor": "#111111", "titlePadding": 18}},
                 "y": {"field": "n", "type": "quantitative", "scale": {"domain": [0, 289], "reverse": true, "nice": false}, "axis": null},
                 "y2": {"datum": 0}}}
            ],
            "resolve": {"scale": {"y": "independent"}, "axis": {"x": "independent", "y": "independent"}}
          }
        ],
        "spacing": 111,
        "bounds": "flush"
      }
    ],
    "spacing": 103,
    "bounds": "flush"
  }
]
}
